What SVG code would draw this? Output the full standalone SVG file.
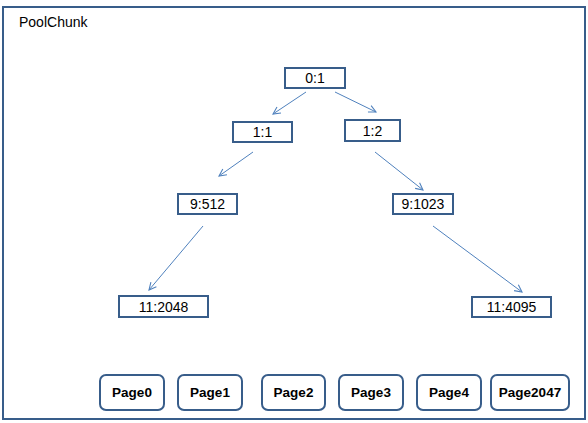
<svg xmlns="http://www.w3.org/2000/svg" width="588" height="423" viewBox="0 0 588 423">
<defs>
<style>
.frame{fill:#fff;stroke:#385D8A;stroke-width:2}
.node{fill:#fff;stroke:#385D8A;stroke-width:2}
.page{fill:#fff;stroke:#385D8A;stroke-width:2}
.t{font-family:"Liberation Sans",Arial,sans-serif;font-size:14px;fill:#000;text-anchor:middle}
.pt{font-family:"Liberation Sans",Arial,sans-serif;font-size:13.5px;font-weight:bold;fill:#000;text-anchor:middle}
.edge{stroke:#4F81BD;stroke-width:1;fill:none;marker-end:url(#ah)}
</style>
<marker id="ah" viewBox="0 0 10 10" refX="9" refY="5" markerWidth="9" markerHeight="9" markerUnits="userSpaceOnUse" orient="auto">
<path d="M1,1 L9,5 L1,9" fill="none" stroke="#4F81BD" stroke-width="1.2"/>
</marker>
</defs>
<rect class="frame" x="3" y="7" width="582" height="412"/>
<text x="19" y="27" font-family="Liberation Sans,Arial,sans-serif" font-size="14" fill="#000">PoolChunk</text>
<g id="connectors">
<line class="edge" x1="306" y1="92" x2="273" y2="114"/>
<line class="edge" x1="335" y1="92" x2="376" y2="112"/>
<line class="edge" x1="253" y1="152" x2="219" y2="176"/>
<line class="edge" x1="375" y1="152" x2="423" y2="190"/>
<line class="edge" x1="203" y1="226" x2="149" y2="290"/>
<line class="edge" x1="433" y1="226" x2="522" y2="292"/>
</g>
<g id="n01"><rect class="node" x="285" y="68" width="60" height="20"/><text class="t" x="315" y="83">0:1</text></g>
<g id="n11"><rect class="node" x="233" y="122" width="59" height="20"/><text class="t" x="262.5" y="137">1:1</text></g>
<g id="n12"><rect class="node" x="345" y="120" width="55" height="21"/><text class="t" x="372.5" y="136">1:2</text></g>
<g id="n9512"><rect class="node" x="178" y="194" width="59" height="20"/><text class="t" x="207.5" y="209">9:512</text></g>
<g id="n91023"><rect class="node" x="393" y="194" width="60" height="20"/><text class="t" x="423" y="209">9:1023</text></g>
<g id="n112048"><rect class="node" x="119" y="296" width="89" height="21"/><text class="t" x="163.5" y="311.5">11:2048</text></g>
<g id="n114095"><rect class="node" x="472" y="297" width="79" height="20"/><text class="t" x="511.5" y="312">11:4095</text></g>
<g id="page0"><rect class="page" x="100" y="375" width="64" height="35" rx="6"/><text class="pt" x="132" y="397">Page0</text></g>
<g id="page1"><rect class="page" x="178" y="375" width="64" height="35" rx="6"/><text class="pt" x="210" y="397">Page1</text></g>
<g id="page2"><rect class="page" x="262" y="375" width="63" height="35" rx="6"/><text class="pt" x="293.5" y="397">Page2</text></g>
<g id="page3"><rect class="page" x="339" y="375" width="64" height="35" rx="6"/><text class="pt" x="371" y="397">Page3</text></g>
<g id="page4"><rect class="page" x="417" y="375" width="64" height="35" rx="6"/><text class="pt" x="449" y="397">Page4</text></g>
<g id="page2047"><rect class="page" x="491" y="375" width="78" height="35" rx="6"/><text class="pt" x="530" y="397">Page2047</text></g>
</svg>
